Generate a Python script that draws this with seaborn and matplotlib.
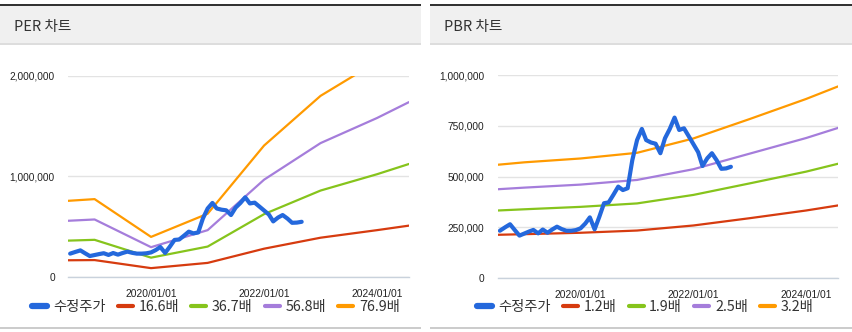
import matplotlib
matplotlib.use("Agg")
import matplotlib.pyplot as plt
import matplotlib.dates as mdates
from matplotlib.patches import Rectangle
from matplotlib.lines import Line2D
from matplotlib.ticker import FuncFormatter
import pandas as pd
import seaborn as sns

# ---- data -------------------------------------------------------------
band_dates = ["2018-07-13", "2019-01-01", "2020-01-01", "2021-01-01",
              "2022-01-01", "2023-01-01", "2024-01-01", "2024-07-26"]

per_labels = ["16.6배", "36.7배", "56.8배", "76.9배"]
per_16_6 = [166000, 168000, 88000, 140000, 281000, 390000, 465000, 510000]
per_36_7 = [361000, 369000, 192000, 302000, 624000, 858000, 1020000, 1122000]
per_56_8 = [558000, 571000, 296000, 465000, 966000, 1329000, 1578000, 1736000]
per_76_9 = [756000, 773000, 398000, 628000, 1305000, 1798000, 2137000, 2352000]

pbr_labels = ["1.2배", "1.9배", "2.5배", "3.2배"]
pbr_1_2 = [212000, 215000, 222000, 233000, 258000, 294000, 332000, 357000]
pbr_1_9 = [332000, 338000, 350000, 367000, 409000, 466000, 524000, 563000]
pbr_2_5 = [437000, 445000, 460000, 483000, 536000, 613000, 690000, 740000]
pbr_3_2 = [558000, 570000, 589000, 617000, 688000, 784000, 883000, 945000]

price_label = "수정주가"
price_dates = pd.date_range("2018-07-27", periods=50, freq="MS").strftime("%Y-%m-%d").tolist()
price_dates[0] = "2018-07-27"
price = [232000, 250000, 264000, 235000, 208000, 218000, 228000, 236000, 219000, 238000,
         222000, 238000, 252000, 240000, 232000, 232000, 235000, 244000, 268000, 298000,
         239000, 300000, 368000, 372000, 410000, 450000, 433000, 442000, 580000, 680000,
         735000, 680000, 668000, 662000, 615000, 689000, 735000, 791000, 730000, 738000,
         700000, 660000, 620000, 552000, 590000, 615000, 580000, 538000, 540000, 548000]

tick_dates = ["2020-01-01", "2022-01-01", "2024-01-01"]

# ---- style ------------------------------------------------------------
W, H = 853, 332
sns.set_theme(style="white")
plt.rcParams["font.family"] = ["Noto Sans CJK KR", "DejaVu Sans"]

BLUE = "#2468dc"
BAND_COLORS = ["#d63b0f", "#86c41c", "#a57ddb", "#ff9a00"]
GRID = "#e3e3e3"
AXIS = "#c9d2dc"
TEXT = "#222222"

fig = plt.figure(figsize=(W / 100, H / 100), dpi=100)


def px_rect(x0, y0, x1, y1, color):
    fig.add_artist(Rectangle((x0 / W, 1 - y1 / H), (x1 - x0) / W, (y1 - y0) / H,
                             transform=fig.transFigure, facecolor=color,
                             edgecolor="none", zorder=0))


def panel(x0, x1, title, axes_box, bands, labels, ymax, ystep, legend_cx):
    # header strip
    px_rect(x0, 4, x1, 6.2, "#333333")
    px_rect(x0, 6.2, x1, 44, "#f0f0f0")
    px_rect(x0, 43.5, x1, 44.8, "#dddddd")
    px_rect(x0, 326.5, x1, 329, "#cccccc")
    fig.text((x0 + 14) / W, 1 - 26.5 / H, title, ha="left", va="center",
             fontsize=10.5, color="#333333")

    l, t, r, b = axes_box
    ax = fig.add_axes([l / W, 1 - b / H, (r - l) / W, (b - t) / H])

    bd = pd.to_datetime(band_dates)
    for vals, c in zip(bands, BAND_COLORS):
        sns.lineplot(x=bd, y=vals, ax=ax, color=c, linewidth=1.6, zorder=3)
    sns.lineplot(x=pd.to_datetime(price_dates), y=price, ax=ax, color=BLUE,
                 linewidth=3.0, zorder=4, solid_joinstyle="round",
                 solid_capstyle="round")

    ax.set_xlim(bd[0], bd[-1])
    ax.set_ylim(0, ymax)
    yt = list(range(0, ymax + 1, ystep))
    ax.set_yticks(yt)
    ax.yaxis.set_major_formatter(FuncFormatter(lambda v, p: f"{int(v):,}"))
    ax.set_xticks(pd.to_datetime(tick_dates))
    ax.xaxis.set_major_formatter(mdates.DateFormatter("%Y/%m/%d"))

    for s in ["top", "right", "left"]:
        ax.spines[s].set_visible(False)
    ax.spines["bottom"].set_color(AXIS)
    ax.spines["bottom"].set_linewidth(1.0)
    ax.spines["bottom"].set_zorder(2)
    ax.grid(axis="y", color=GRID, linewidth=1.0, zorder=1)
    ax.grid(axis="x", visible=False)
    ax.tick_params(axis="x", length=6, width=1, color=AXIS, pad=2.5,
                   labelsize=7.4, labelcolor=TEXT)
    ax.tick_params(axis="y", length=0, pad=9.5, labelsize=7.3, labelcolor=TEXT)
    for lab in ax.get_xticklabels() + ax.get_yticklabels():
        lab.set_fontfamily(["Liberation Sans", "DejaVu Sans"])
    ax.set_xlabel("")
    ax.set_ylabel("")
    ax.set_facecolor("none")

    handles = [Line2D([], [], color=BLUE, linewidth=4.5)]
    handles += [Line2D([], [], color=c, linewidth=3) for c in BAND_COLORS]
    fig.legend(handles, [price_label] + labels, loc="center",
               bbox_to_anchor=(legend_cx / W, 1 - 307 / H), ncol=5, frameon=False,
               fontsize=10.3, handlelength=1.05, handletextpad=0.4,
               columnspacing=0.85, labelcolor="#333333", borderaxespad=0,
               borderpad=0)
    return ax


panel(0, 421, "PER 차트", (68, 75.5, 409, 277),
      [per_16_6, per_36_7, per_56_8, per_76_9], per_labels, 2000000, 1000000, 216)
panel(430, 853, "PBR 차트", (497.7, 75.3, 838, 277.7),
      [pbr_1_2, pbr_1_9, pbr_2_5, pbr_3_2], pbr_labels, 1000000, 250000, 645.5)

fig.savefig("out.png", dpi=100)
